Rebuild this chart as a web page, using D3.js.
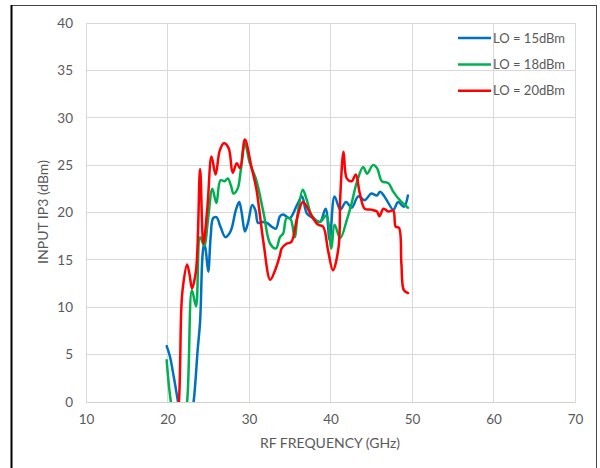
<!DOCTYPE html>
<meta charset="utf-8">
<style>
body {
  margin: 0;
  background-color: #fff;
}
.axis text {
  font: 13.5px Lato, sans-serif;
  fill: #595959;
}
.grid line {
  stroke: #D9D9D9;
  stroke-width: 1px;
  shape-rendering: crispEdges;
}
.line {
  fill: none;
  stroke-width: 2.5px;
  stroke-linejoin: round;
  stroke-linecap: round;
}
.title {
  font: 14px Lato, sans-serif;
  fill: #595959;
}
.legend text {
  font: 13px Lato, sans-serif;
  fill: #595959;
}
</style>
<body>
<script src="https://d3js.org/d3.v7.min.js"></script>
<script>
// INPUT IP3 vs RF frequency for three LO drive levels

var xTicks = [10, 20, 30, 40, 50, 60, 70];
var yTicks = [0, 5, 10, 15, 20, 25, 30, 35, 40];

var seriesNames = ["LO = 15dBm", "LO = 18dBm", "LO = 20dBm"];
var seriesColors = ["#0070C0", "#00B050", "#FF0000"];

// [GHz, dBm]
var lo15 = [
  [19.9, 5.9], [20.3, 4.8], [20.8, 2.5], [21.4, -0.5], [22.0, -3], [22.6, -3],
  [23.2, 0], [23.7, 5.5], [24.0, 8.5], [24.3, 15.5], [24.5, 16.8], [24.7, 16],
  [25.0, 13.75], [25.3, 17.5], [25.6, 19.4], [26.0, 19.5], [26.5, 18.5], [27.1, 17.4],
  [27.6, 17.8], [27.9, 18.4], [28.4, 20.3], [28.8, 21.1], [29.1, 20], [29.5, 18.0],
  [29.9, 19], [30.4, 20.8], [30.8, 20.2], [31.1, 18.9], [31.6, 19], [32.2, 18.9],
  [32.8, 18.5], [33.3, 18.3], [33.8, 19.6], [34.2, 19.8], [35.0, 19.4], [35.9, 20.8],
  [36.5, 21.7], [37.1, 19.9], [37.9, 19.4], [38.7, 19.0], [39.4, 20.4], [39.9, 17.1],
  [40.5, 21.7], [41.2, 20.3], [41.9, 21.1], [42.6, 20.5], [43.4, 21.7], [44.2, 21.3],
  [45.0, 22.0], [45.7, 21.8], [46.1, 22.2], [46.9, 21.3], [47.7, 20.3], [48.3, 21.1],
  [49.0, 20.6], [49.5, 21.8]
];

var lo18 = [
  [19.9, 4.4], [20.2, 1.5], [20.5, -0.5], [21.0, -3], [21.8, -3], [22.4, 0],
  [23.0, 11.8], [23.5, 10.1], [24.0, 17.4], [24.5, 16.5], [25.0, 19.5], [25.5, 22.5],
  [26.0, 21.0], [26.5, 23.4], [27.0, 23.3], [27.4, 23.6], [27.8, 22.8], [28.1, 22.0],
  [28.6, 22.5], [29.0, 24.5], [29.5, 27.3], [30.1, 25.2], [30.9, 23.4], [31.8, 19.9],
  [32.6, 16.7], [33.3, 16.2], [33.8, 17.4], [34.2, 17.8], [34.6, 19.4], [35.1, 19.3],
  [35.6, 17.4], [36.0, 20], [36.6, 22.4], [37.1, 21.3], [37.7, 19.7], [38.7, 19.0],
  [39.5, 19.7], [40.1, 16.2], [40.5, 18.7], [41.2, 17.3], [42.0, 19.2], [42.6, 21.0],
  [43.2, 23.1], [44.0, 24.8], [44.5, 24.1], [45.2, 25.0], [45.7, 24.7], [46.3, 23.3],
  [47.1, 23.1], [47.7, 22.2], [48.5, 21.3], [49.5, 20.5]
];

var lo20 = [
  [21.0, -3], [21.4, 0], [21.7, 10], [21.9, 12.2], [22.4, 14.5], [22.7, 13.5],
  [23.0, 12.0], [23.5, 13.9], [24.0, 24.6], [24.4, 16.7], [24.9, 20.6], [25.4, 25.9],
  [25.9, 24.0], [26.4, 26.5], [26.9, 27.3], [27.5, 26.8], [28.0, 24.2], [28.5, 25.2],
  [28.9, 24.7], [29.5, 27.7], [30.3, 24.8], [30.9, 22.5], [31.3, 20], [31.8, 16.7],
  [32.6, 12.9], [33.2, 13.9], [33.8, 15.5], [34.0, 16.2], [34.6, 16.7], [35.2, 16.9],
  [35.9, 19.4], [36.6, 21.1], [37.1, 20.6], [37.7, 19.6], [38.5, 18.7], [39.1, 18.5],
  [39.7, 16.0], [40.3, 13.9], [41.0, 16.4], [41.2, 21.7], [41.6, 26.4], [42.0, 23.6],
  [42.6, 23.3], [43.1, 24.0], [43.6, 22.0], [44.2, 20.4], [45.0, 20.3], [45.7, 20.1],
  [46.0, 19.6], [46.5, 20.4], [47.1, 20.1], [47.7, 20.2], [48.0, 18.5], [48.4, 18.4],
  [48.7, 14.6], [49.0, 11.8], [49.5, 11.5]
];

var seriesData = [lo15, lo18, lo20];

var svg = d3.select("body")
    .append("svg")
    .attr("width", 600)
    .attr("height", 468),
    margin = {top: 23, right: 25, bottom: 66, left: 86},
    width = 575 - margin.left,
    height = 402 - margin.top;

// frame round the whole chart
svg.append("rect")
    .attr("x", 11.5)
    .attr("y", 5.5)
    .attr("width", 585)
    .attr("height", 470)
    .attr("fill", "none")
    .attr("stroke", "#444")
    .attr("stroke-width", 1);
svg.append("line")
    .attr("x1", 11.5).attr("x2", 11.5)
    .attr("y1", 5).attr("y2", 468)
    .attr("stroke", "#000")
    .attr("stroke-width", 2);

var x = d3.scaleLinear().domain([10, 70]).range([0, width]);
var y = d3.scaleLinear().domain([0, 40]).range([height, 0]);

var g = svg.append("g")
    .attr("transform", "translate(" + margin.left + "," + margin.top + ")");

// gridlines
g.append("g")
    .attr("class", "grid")
    .selectAll("line.h")
    .data(yTicks)
  .enter().append("line")
    .attr("x1", 0)
    .attr("x2", width)
    .attr("y1", function(d) { return y(d); })
    .attr("y2", function(d) { return y(d); });

g.append("g")
    .attr("class", "grid")
    .selectAll("line.v")
    .data(xTicks)
  .enter().append("line")
    .attr("y1", 0)
    .attr("y2", height)
    .attr("x1", function(d) { return x(d); })
    .attr("x2", function(d) { return x(d); });

g.append("g")
    .attr("class", "axis axis--x")
    .attr("transform", "translate(0," + height + ")")
    .call(d3.axisBottom(x).tickValues(xTicks).tickSize(0).tickPadding(12))
    .call(function(a) { a.select(".domain").attr("stroke", "#D0D0D0"); });

g.append("g")
    .attr("class", "axis axis--y")
    .call(d3.axisLeft(y).tickValues(yTicks).tickSize(0).tickPadding(13))
    .call(function(a) { a.select(".domain").remove(); });

svg.append("text")
    .attr("class", "title")
    .attr("x", 330)
    .attr("y", 448)
    .attr("text-anchor", "middle")
    .text("RF FREQUENCY (GHz)");

svg.append("text")
    .attr("class", "title")
    .attr("transform", "translate(48,212) rotate(-90)")
    .attr("text-anchor", "middle")
    .text("INPUT IP3 (dBm)");

svg.append("defs").append("clipPath")
    .attr("id", "plot")
  .append("rect")
    .attr("width", width)
    .attr("height", height);

var line = d3.line()
    .curve(d3.curveCatmullRom.alpha(0.5))
    .x(function(d) { return x(d[0]); })
    .y(function(d) { return y(d[1]); });

g.append("g")
    .attr("clip-path", "url(#plot)")
    .selectAll("path")
    .data(seriesData)
  .enter().append("path")
    .attr("class", "line")
    .attr("stroke", function(d, i) { return seriesColors[i]; })
    .attr("d", line);

// legend
var legend = svg.append("g")
    .attr("class", "legend")
    .selectAll("g")
    .data(seriesNames)
  .enter().append("g")
    .attr("transform", function(d, i) { return "translate(458," + (38 + i * 26.4) + ")"; });

legend.append("line")
    .attr("x1", 0)
    .attr("x2", 33)
    .attr("stroke-width", 2.5)
    .attr("stroke", function(d, i) { return seriesColors[i]; });

legend.append("text")
    .attr("x", 35)
    .attr("dy", "0.35em")
    .text(function(d) { return d; });
</script>
</body>
